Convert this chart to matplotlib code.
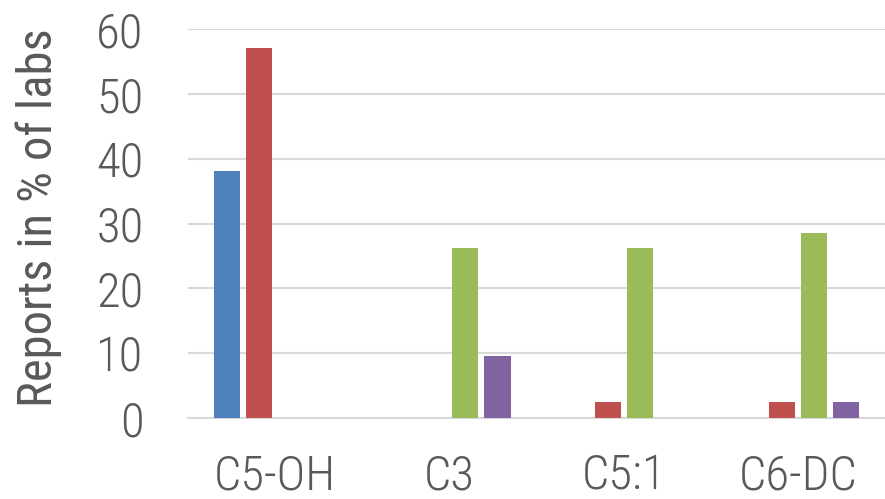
from matplotlib import pyplot as plt
import numpy as np

categories = ['C5-OH', 'C3', 'C5:1', 'C6-DC']
series_blue = [38.1, 0, 0, 0]
series_red = [57.1, 0, 2.4, 2.4]
series_green = [0, 26.2, 26.2, 28.6]
series_purple = [0, 9.5, 0, 2.4]
yticks = [0, 10, 20, 30, 40, 50, 60]

colors = ['#4F81BD', '#C0504D', '#9BBB59', '#8064A2']
text_color = '#595959'
grid_color = '#D9D9D9'

plt.rcParams['font.family'] = ['Roboto Condensed', 'DejaVu Sans']
plt.rcParams['font.weight'] = 'light'

fig = plt.figure(figsize=(8.85, 4.99), dpi=100)
ax = fig.add_axes([0.2124, 0.1623, 0.7876, 0.7796])

x = np.arange(len(categories))
width = 0.15
pitch = 0.184
all_series = [series_blue, series_red, series_green, series_purple]
for i, vals in enumerate(all_series):
    offs = (i - 1.5) * pitch
    ax.bar(x + offs, vals, width, color=colors[i], zorder=3)

ax.set_xlim(-0.5, len(categories) - 0.5)
ax.set_ylim(0, 60)
ax.set_yticks(yticks)
ax.set_xticks(x)
ax.set_xticklabels(categories)

ax.grid(axis='y', color=grid_color, linewidth=1.5, zorder=0)
for s in ['top', 'right', 'left']:
    ax.spines[s].set_visible(False)
ax.spines['bottom'].set_color(grid_color)
ax.spines['bottom'].set_linewidth(1.5)

ax.tick_params(axis='both', length=0, labelsize=35, labelcolor=text_color)
ax.tick_params(axis='y', pad=32)
ax.tick_params(axis='x', pad=25)
ax.set_ylabel('Reports in % of labs', fontsize=35, color=text_color)
ax.yaxis.set_label_coords(-0.181, 0.515)

plt.savefig('out.png', dpi=100)
